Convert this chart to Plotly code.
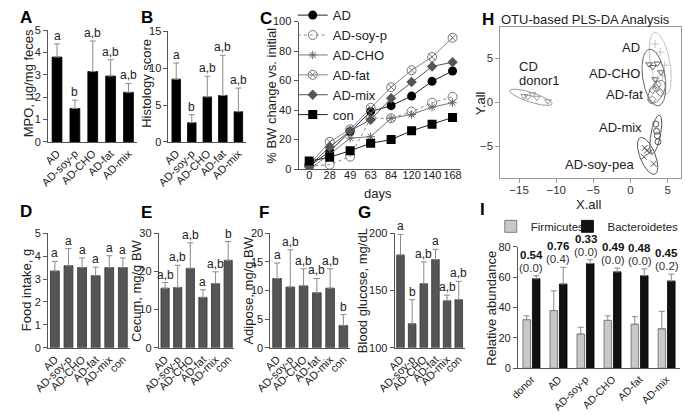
import numpy as np
import plotly.graph_objects as go

W, H = 685, 415
FONT = "Liberation Sans, Arial, sans-serif"


def fx(p):
    return p / W


def fy(p):
    return 1 - p / H


# ---------------- data ----------------
grp5 = ["AD", "AD-soy-p", "AD-CHO", "AD-fat", "AD-mix"]
grp6 = ["AD", "AD-soy-p", "AD-CHO", "AD-fat", "AD-mix", "con"]
grpI = ["donor", "AD", "AD-soy-p", "AD-CHO", "AD-fat", "AD-mix"]

mpo_mean = [3.8, 1.5, 3.15, 2.95, 2.22]
mpo_sd = [0.59, 0.37, 1.37, 0.73, 0.4]
mpo_sig = ["a", "b", "a,b", "a,b", "a,b"]

hist_mean = [8.5, 2.6, 6.1, 6.3, 4.1]
hist_sd = [2.2, 1.1, 2.8, 5.45, 3.2]
hist_sig = ["a", "b", "a,b", "a,b", "a,b"]

days = ["0", "28", "49", "63", "84", "120", "140", "168"]
bw_AD = [2, 12, 25.5, 39, 43, 49.5, 59.5, 66.5]
bw_soy = [2, 3, 8.5, 34.5, 34.5, 39, 45, 49]
bw_cho = [0, 10, 21, 22, 34.5, 37, 42, 45]
bw_fat = [3, 18.5, 27, 41.5, 55.5, 67, 76, 89]
bw_mix = [2, 15, 26, 33.5, 48, 59, 69.5, 72.5]
bw_con = [5.5, 8, 12.5, 17.5, 20, 26, 30.5, 35]
bw_sig = ["b", "a", "a", "b", "b", "a"]

food_mean = [3.35, 3.58, 3.5, 3.15, 3.5, 3.5]
food_sd = [0.42, 0.75, 0.42, 0.37, 0.52, 0.42]
food_sig = ["a", "a", "a", "a", "a", "a"]

cecum_mean = [15.6, 15.8, 20.8, 13.2, 16.8, 22.9]
cecum_sd = [1.5, 5.8, 6.7, 2.0, 3.1, 4.9]
cecum_sig = ["a,b", "a,b", "a,b", "a", "a,b", "b"]

adip_mean = [12.1, 10.6, 10.8, 9.6, 10.4, 3.9]
adip_sd = [2.7, 6.5, 3.0, 2.5, 3.4, 1.9]
adip_sig = ["a", "a,b", "a,b", "a,b", "a,b", "b"]

glu_mean = [181, 121, 156, 177, 141, 142]
glu_sd = [18, 21, 19, 9, 5, 16]
glu_sig = ["a", "b", "a,b", "a", "a,b", "a,b"]

firm_mean = [32, 38, 22.5, 31.5, 29, 26]
firm_sd = [2.5, 13, 4.5, 3, 5, 11.5]
bact_mean = [59, 55.5, 69, 63.5, 61, 57.5]
bact_sd = [2, 11, 2.5, 2.5, 4.5, 4.5]
fb_ratio = ["0.54", "0.76", "0.33", "0.49", "0.48", "0.45"]
fb_p = ["(0.0)", "(0.4)", "(0.0)", "(0.0)", "(0.0)", "(0.2)"]

# PLS-DA scores (H)
pls_groups = ["CD donor1", "AD", "AD-CHO", "AD-fat", "AD-mix", "AD-soy-pea"]
pls_x = [
    [-14.3, -13.8, -13.2, -12.6, -11.1],
    [3.3, 4.0, 4.6, 4.3],
    [2.5, 3.0, 3.6, 4.1, 3.3],
    [3.6, 3.0, 4.0, 2.9, 3.5],
    [3.4, 3.5, 3.6, 3.7],
    [1.9, 2.2, 2.6, 1.8, 3.1],
]
pls_y = [
    [0.7, 0.6, 0.9, 0.5, 0.1],
    [6.6, 5.7, 4.2, 3.0],
    [4.3, 4.0, 4.4, 3.4, 2.6],
    [2.0, 1.4, 1.1, 0.3, 1.6],
    [-2.5, -3.3, -3.8, -4.5],
    [-5.2, -5.5, -5.7, -6.2, -7.0],
]
# confidence ellipses: centre, semi-axes, angle (deg)
ell_cx = [-13.4, 4.0, 3.15, 3.5, 3.4, 2.3]
ell_cy = [0.55, 4.4, 2.8, 1.15, -3.65, -6.1]
ell_a = [2.95, 3.6, 3.27, 1.55, 2.23, 2.3]
ell_b = [0.55, 1.3, 1.5, 0.85, 0.65, 1.0]
ell_ang = [-15, -77.5, -78.5, 51, 77, -63]

# ---------------- figure ----------------
fig = go.Figure()
ann = []
ERR = dict(color="#8a8a8a", thickness=1, width=3)
AX = dict(showline=True, linecolor="#555", linewidth=1, showgrid=False,
          zeroline=False, tickfont=dict(size=11, color="#222"))
layout_axes = {}


def add_axes(idx, xdom, ydom, xkw, ykw):
    """xdom=(left px, right px); ydom=(bottom px, top px)"""
    xk = "xaxis" if idx == 1 else f"xaxis{idx}"
    yk = "yaxis" if idx == 1 else f"yaxis{idx}"
    xa = dict(AX, domain=[fx(xdom[0]), fx(xdom[1])], anchor=f"y{idx}" if idx > 1 else "y")
    ya = dict(AX, domain=[fy(ydom[0]), fy(ydom[1])], anchor=f"x{idx}" if idx > 1 else "x")
    xa.update(xkw)
    ya.update(ykw)
    layout_axes[xk] = xa
    layout_axes[yk] = ya


def cat_axis(cats, size=11):
    return dict(type="category", range=[-0.5, len(cats) - 0.5], tickangle=-45,
                ticks="", ticklen=0, tickmode="array", tickvals=cats, ticktext=cats,
                tickfont=dict(size=size, color="#222"))


def bar_panel(idx, cats, means, sds, sigs, color, edge, yrange, dtick, xdom, ydom, width):
    xr = "x" if idx == 1 else f"x{idx}"
    yr = "y" if idx == 1 else f"y{idx}"
    fig.add_trace(go.Bar(
        x=cats, y=means, xaxis=xr, yaxis=yr, width=width,
        marker=dict(color=color, line=dict(color=edge, width=0.8)),
        error_y=dict(type="data", array=sds, arrayminus=[0] * len(sds),
                     symmetric=False, **ERR),
        showlegend=False))
    for c, m, s, t in zip(cats, means, sds, sigs):
        ann.append(dict(x=c, y=m + s, xref=xr, yref=yr, text=t, showarrow=False,
                        xanchor="center", yanchor="bottom", yshift=-1,
                        font=dict(size=12, color="#222")))
    add_axes(idx, xdom, ydom, cat_axis(cats),
             dict(range=yrange, dtick=dtick, ticks="outside", ticklen=4,
                  tickcolor="#555"))


# A
bar_panel(1, grp5, mpo_mean, mpo_sd, mpo_sig, "#000", "#000", [0, 5], 1,
          (31, 123), (140, 25), 0.55)
# B
bar_panel(2, grp5, hist_mean, hist_sd, hist_sig, "#000", "#000", [0, 15], 5,
          (155, 235), (140, 26), 0.55)

# C
series = [
    ("AD", bw_AD, dict(symbol="circle", color="#000", size=9), dict(color="#222", width=1)),
    ("AD-soy-p", bw_soy, dict(symbol="circle-open", color="#777", size=9, line=dict(width=1)),
     dict(color="#888", width=1, dash="dot")),
    ("AD-CHO", bw_cho, dict(symbol="asterisk-open", color="#666", size=7, line=dict(width=1)),
     dict(color="#777", width=1)),
    ("AD-fat", bw_fat, dict(symbol="circle-x-open", color="#777", size=9, line=dict(width=1)),
     dict(color="#888", width=1)),
    ("AD-mix", bw_mix, dict(symbol="diamond", color="#555", size=8), dict(color="#555", width=1)),
    ("con", bw_con, dict(symbol="square", color="#000", size=9), dict(color="#222", width=1)),
]
for (name, vals, mk, ln), sig in zip(series, bw_sig):
    fig.add_trace(go.Scatter(x=days, y=vals, name=name, mode="lines+markers",
                             marker=mk, line=ln, xaxis="x3", yaxis="y3", legend="legend"))
    ann.append(dict(x=days[-1], y=vals[-1], xref="x3", yref="y3", text=sig,
                    showarrow=False, xanchor="left", yanchor="middle", xshift=7,
                    font=dict(size=14, color="#222")))
add_axes(3, (289, 455), (168, 16),
         dict(type="category", range=[-0.52, 7.35], ticks="", ticklen=0, tickmode="array",
              tickangle=0, ticklabelstandoff=-4,
              tickvals=days, ticktext=days, tickfont=dict(size=11, color="#222")),
         dict(range=[0, 100], dtick=20, ticks="outside", ticklen=4, tickcolor="#555"))

# H
t = np.linspace(0, 2 * np.pi, 120)
ell_col = ["#9a9a9a", "#c4c4c4", "#666", "#777", "#555", "#555"]
pt_sym = ["triangle-down-open", "cross-thin-open", "triangle-down-open", "diamond-open",
          "circle-open", "x-thin-open"]
for i in range(len(pls_groups)):
    th = np.radians(ell_ang[i])
    ex = ell_cx[i] + ell_a[i] * np.cos(t) * np.cos(th) - ell_b[i] * np.sin(t) * np.sin(th)
    ey = ell_cy[i] + ell_a[i] * np.cos(t) * np.sin(th) + ell_b[i] * np.sin(t) * np.cos(th)
    fig.add_trace(go.Scatter(x=ex, y=ey, mode="lines", line=dict(color=ell_col[i], width=1),
                             xaxis="x4", yaxis="y4", showlegend=False, hoverinfo="skip"))
    fig.add_trace(go.Scatter(x=pls_x[i], y=pls_y[i], mode="markers", name=pls_groups[i],
                             marker=dict(symbol=pt_sym[i], size=6, color=ell_col[i],
                                         line=dict(width=1, color=ell_col[i])),
                             xaxis="x4", yaxis="y4", showlegend=False))
HAX = dict(mirror=True, linecolor="#999", ticks="outside", ticklen=4, tickcolor="#999",
           tickfont=dict(size=11.5, color="#333"))
add_axes(4, (497, 683), (177, 22),
         dict(HAX, range=[-17.5, 6.8], tickvals=[-15, -10, -5, 0, 5], ticklabelstandoff=-3),
         dict(HAX, range=[-8.6, 8.5], tickvals=[-5, 0, 5]))
for txt, x, y, xa in [("AD", 1.55, 6.2, "right"), ("AD-CHO", 1.55, 3.3, "right"),
                      ("AD-fat", 1.95, 0.9, "right"), ("AD-mix", 1.8, -2.9, "right"),
                      ("AD-soy-pea", -4.15, -7.05, "center"), ("CD", -15.3, 4.1, "left"),
                      ("donor1", -15.3, 2.5, "left")]:
    ann.append(dict(x=x, y=y, xref="x4", yref="y4", text=txt, showarrow=False,
                    xanchor=xa, yanchor="middle", font=dict(size=13, color="#222")))

# D-G
GREY = "#555"
bar_panel(5, grp6, food_mean, food_sd, food_sig, GREY, "#333", [0, 5], 1,
          (31, 115), (352, 234), 0.65)
bar_panel(6, grp6, cecum_mean, cecum_sd, cecum_sig, GREY, "#333", [0, 30], 10,
          (145, 223), (352, 234), 0.65)
bar_panel(7, grp6, adip_mean, adip_sd, adip_sig, GREY, "#333", [0, 20], 5,
          (260, 342), (352, 234), 0.65)
bar_panel(8, grp6, glu_mean, glu_sd, glu_sig, GREY, "#333", [100, 200], 50,
          (388, 460), (352, 234), 0.65)

# I
fig.add_trace(go.Bar(x=grpI, y=firm_mean, name="Firmicutes", xaxis="x9", yaxis="y9",
                     marker=dict(color="#c8c8c8", line=dict(color="#666", width=0.8)),
                     error_y=dict(type="data", array=firm_sd, arrayminus=[0] * 6,
                                  symmetric=False, **ERR), legend="legend2"))
fig.add_trace(go.Bar(x=grpI, y=bact_mean, name="Bacteroidetes", xaxis="x9", yaxis="y9",
                     marker=dict(color="#111", line=dict(color="#000", width=0.8)),
                     error_y=dict(type="data", array=bact_sd, arrayminus=[0] * 6,
                                  symmetric=False, **ERR), legend="legend3"))
for g, m, s, r, p in zip(grpI, bact_mean, bact_sd, fb_ratio, fb_p):
    ann.append(dict(x=g, y=m + s, xref="x9", yref="y9", text=p, showarrow=False,
                    xanchor="center", yanchor="bottom", yshift=0,
                    font=dict(size=11.5, color="#333")))
    ann.append(dict(x=g, y=m + s, xref="x9", yref="y9", text=f"<b>{r}</b>", showarrow=False,
                    xanchor="center", yanchor="bottom", yshift=13,
                    font=dict(size=11.5, color="#111")))
add_axes(9, (515, 682), (373, 248), cat_axis(grpI, 10.5),
         dict(range=[0, 80], dtick=20, ticks="outside", ticklen=4, tickcolor="#555"))

# axis titles
for txt, x, y in [("MPO, µg/mg feces", 11, 80), ("Histology score", 133, 80),
                  ("% BW change vs. initial", 261, 92), ("Food intake, g", 9, 293),
                  ("Cecum, mg/g BW", 122, 293), ("Adipose, mg/g BW", 237, 293),
                  ("Blood glucose, mg/dL", 355, 293), ("Relative abundance", 487, 311),
                  ("Y.all", 476, 100)]:
    ann.append(dict(x=fx(x), y=fy(y), xref="paper", yref="paper", text=txt, textangle=-90,
                    xanchor="center", yanchor="middle", showarrow=False,
                    font=dict(size=13, color="#222")))
for txt, x, y in [("days", 371, 193), ("X.all", 588, 204), ("OTU-based PLS-DA Analysis", 585, 14)]:
    ann.append(dict(x=fx(x), y=fy(y), xref="paper", yref="paper", text=txt,
                    xanchor="center", yanchor="middle", showarrow=False,
                    font=dict(size=13, color="#222")))
# panel letters
for txt, x, y in [("A", 8, 12), ("B", 133, 12), ("C", 255, 13), ("H", 484, 14),
                  ("D", 8, 212), ("E", 132, 213), ("F", 253, 213), ("G", 357, 213),
                  ("I", 478, 210)]:
    ann.append(dict(x=fx(x), y=fy(y), xref="paper", yref="paper", text=f"<b>{txt}</b>",
                    xanchor="center", yanchor="middle", showarrow=False,
                    font=dict(size=17, color="#000")))

LEG = dict(bgcolor="rgba(0,0,0,0)", xanchor="left", yanchor="top")
fig.update_layout(
    width=W, height=H, margin=dict(l=0, r=0, t=0, b=0),
    paper_bgcolor="white", plot_bgcolor="white",
    font=dict(family=FONT, size=11, color="#222"),
    barmode="group", bargap=0.3, bargroupgap=0.2,
    annotations=ann,
    legend=dict(LEG, x=fx(283), y=fy(-6), font=dict(size=13), tracegroupgap=0),
    legend2=dict(LEG, x=fx(487), y=fy(212), font=dict(size=11.5)),
    legend3=dict(LEG, x=fx(566), y=fy(212), font=dict(size=11.5)),
    **layout_axes,
)
fig.write_html("out.html", config={"displayModeBar": False},
               post_script="document.body.style.margin='0';")
